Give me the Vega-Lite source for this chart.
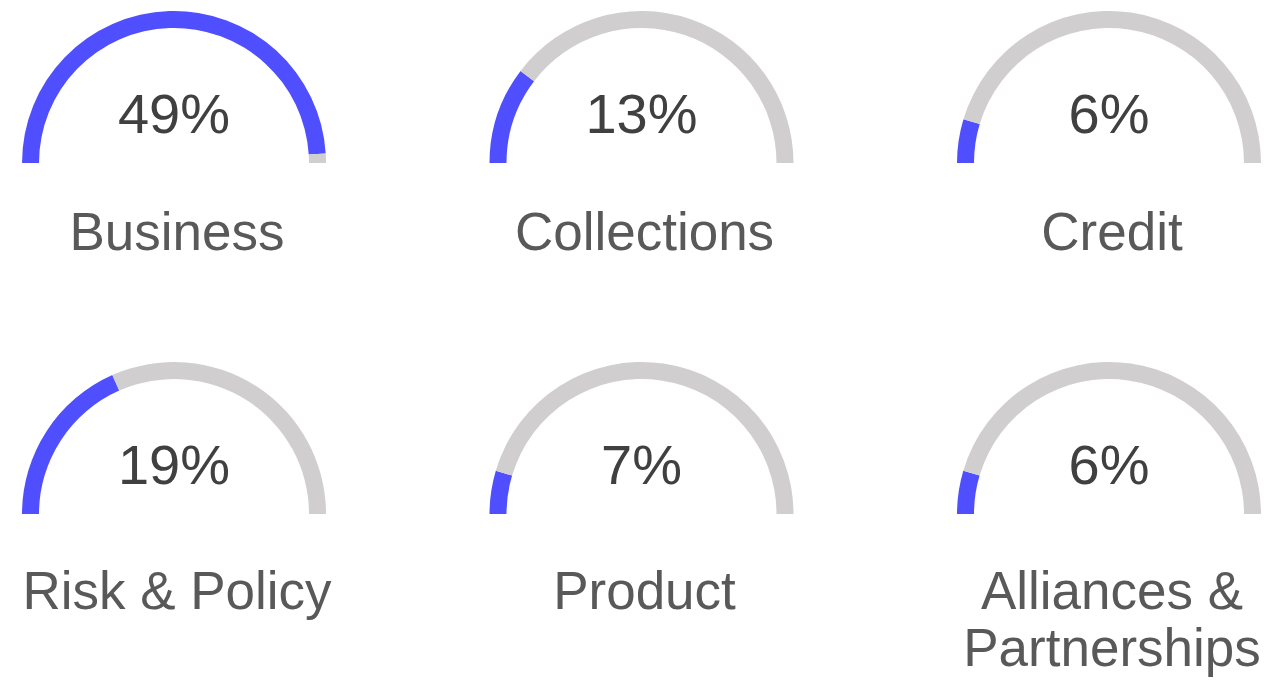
{
  "$schema": "https://vega.github.io/schema/vega-lite/v6.json",
  "width": 1286,
  "height": 685,
  "autosize": "none",
  "padding": 0,
  "config": {"view": {"stroke": null}},
  "datasets": {
    "gauges": [
      {"cat": "Business", "label": ["Business"], "share": 0.49, "col": 0, "row": 0},
      {"cat": "Collections", "label": ["Collections"], "share": 0.13, "col": 1, "row": 0},
      {"cat": "Credit", "label": ["Credit"], "share": 0.06, "col": 2, "row": 0},
      {"cat": "Risk & Policy", "label": ["Risk & Policy"], "share": 0.19, "col": 0, "row": 1},
      {"cat": "Product", "label": ["Product"], "share": 0.07, "col": 1, "row": 1},
      {"cat": "Alliances & Partnerships", "label": ["Alliances &", "Partnerships"], "share": 0.06, "col": 2, "row": 1}
    ],
    "arcs": [
      {"cat": "Business", "col": 0, "row": 0, "part": "filled", "start": 0, "end": 98},
      {"cat": "Business", "col": 0, "row": 0, "part": "rest", "start": 98, "end": 100},
      {"cat": "Collections", "col": 1, "row": 0, "part": "filled", "start": 0, "end": 20.7},
      {"cat": "Collections", "col": 1, "row": 0, "part": "rest", "start": 20.7, "end": 100},
      {"cat": "Credit", "col": 2, "row": 0, "part": "filled", "start": 0, "end": 9.3},
      {"cat": "Credit", "col": 2, "row": 0, "part": "rest", "start": 9.3, "end": 100},
      {"cat": "Risk & Policy", "col": 0, "row": 1, "part": "filled", "start": 0, "end": 36.7},
      {"cat": "Risk & Policy", "col": 0, "row": 1, "part": "rest", "start": 36.7, "end": 100},
      {"cat": "Product", "col": 1, "row": 1, "part": "filled", "start": 0, "end": 9.2},
      {"cat": "Product", "col": 1, "row": 1, "part": "rest", "start": 9.2, "end": 100},
      {"cat": "Alliances & Partnerships", "col": 2, "row": 1, "part": "filled", "start": 0, "end": 9.2},
      {"cat": "Alliances & Partnerships", "col": 2, "row": 1, "part": "rest", "start": 9.2, "end": 100}
    ]
  },
  "encoding": {
    "x": {"field": "col", "type": "ordinal", "axis": null, "scale": {"type": "point", "padding": 0, "range": [174, 1109]}},
    "y": {"field": "row", "type": "ordinal", "axis": null, "scale": {"type": "point", "padding": 0, "range": [163, 514]}}
  },
  "layer": [
    {
      "data": {"name": "arcs"},
      "mark": {"type": "arc", "radius": 152, "radius2": 135},
      "encoding": {
        "theta": {"field": "start", "type": "quantitative", "scale": {"domain": [0, 100], "range": [-1.5707963, 1.5707963]}},
        "theta2": {"field": "end"},
        "color": {"field": "part", "type": "nominal", "legend": null, "scale": {"domain": ["filled", "rest"], "range": ["#4F4FFF", "#D0CECE"]}}
      }
    },
    {
      "data": {"name": "gauges"},
      "mark": {"type": "text", "font": "Liberation Sans", "fontSize": 56, "color": "#404040", "baseline": "alphabetic", "align": "center", "dy": -30},
      "encoding": {"text": {"field": "share", "type": "quantitative", "format": ".0%"}}
    },
    {
      "data": {"name": "gauges"},
      "transform": [{"filter": "datum.row == 0"}],
      "mark": {"type": "text", "font": "Liberation Sans", "fontSize": 53, "color": "#595959", "baseline": "alphabetic", "align": "center", "dy": 87, "dx": 3, "lineHeight": 57},
      "encoding": {"text": {"field": "label"}}
    },
    {
      "data": {"name": "gauges"},
      "transform": [{"filter": "datum.row == 1"}],
      "mark": {"type": "text", "font": "Liberation Sans", "fontSize": 53, "color": "#595959", "baseline": "alphabetic", "align": "center", "dy": 95, "dx": 3, "lineHeight": 57},
      "encoding": {"text": {"field": "label"}}
    }
  ]
}
